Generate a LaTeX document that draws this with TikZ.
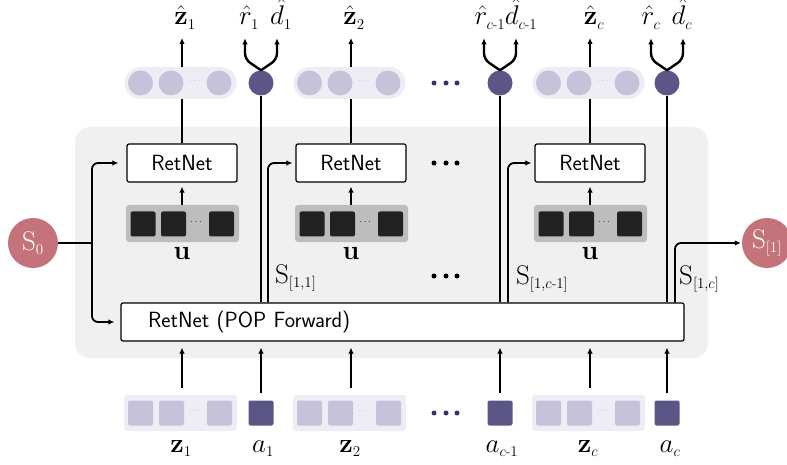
\RequirePackage{fix-cm}
\documentclass[tikz,border=0pt]{standalone}
\usepackage{amsmath}
\usetikzlibrary{arrows.meta,calc}
\DeclareMathSizes{27}{27}{15}{11}
\definecolor{bggray}{HTML}{F0F0F0}
\definecolor{pillbg}{HTML}{EEEDF5}
\definecolor{lightp}{HTML}{C5C2DA}
\definecolor{darkp}{HTML}{5C5686}
\definecolor{dotp}{HTML}{3B3566}
\definecolor{sred}{HTML}{C4737A}
\definecolor{ubg}{HTML}{BDBDBD}
\definecolor{usqc}{HTML}{222222}
\begin{document}
\begin{tikzpicture}[x=1pt,y=-1pt,
  arr/.style={-{Latex[length=6pt,width=5.5pt]}},
  thk/.style={line width=2.4pt},
  mid/.style={line width=1.8pt},
  retbox/.style={draw, line width=1.2pt, fill=white, rounded corners=2pt, minimum width=110pt, minimum height=38pt, inner sep=0pt, font=\fontsize{22}{26}\selectfont\sffamily},
  ublock/.style={fill=ubg, rounded corners=3pt, minimum width=113pt, minimum height=37pt, inner sep=0pt},
  usq/.style={fill=usqc, rounded corners=2pt, minimum size=25pt, inner sep=0pt},
  pill/.style={fill=pillbg, rounded corners=16pt, minimum width=112pt, minimum height=32pt, inner sep=0pt},
  lcirc/.style={circle, fill=lightp, minimum size=25pt, inner sep=0pt},
  dcirc/.style={circle, fill=darkp, minimum size=25pt, inner sep=0pt},
  bpill/.style={fill=pillbg, rounded corners=3pt, minimum width=113pt, minimum height=36pt, inner sep=0pt},
  lsq/.style={fill=lightp, rounded corners=2pt, minimum size=25pt, inner sep=0pt},
  dsq/.style={fill=darkp, rounded corners=2pt, minimum size=25pt, inner sep=0pt},
  bigdot/.style={circle, fill=dotp, minimum size=5pt, inner sep=0pt},
  blkdot/.style={circle, fill=black, minimum size=5pt, inner sep=0pt},
  mlab/.style={font=\fontsize{27}{30}\selectfont, inner sep=0pt, anchor=base},
  slab/.style={font=\fontsize{27}{30}\selectfont, inner sep=0pt, anchor=base west},
  scirc/.style={circle, fill=sred, minimum size=50pt, inner sep=0pt, text=white, font=\fontsize{27}{30}\selectfont},
  smalldots/.style={font=\fontsize{10}{12}\selectfont, inner sep=0pt},
]
\useasboundingbox (0,0) rectangle (787,465);

% background
\node[fill=bggray, rounded corners=15pt, minimum width=633pt, minimum height=231pt, inner sep=0pt] (bg) at (391.5,242.5) {};

% state circles
\node[scirc] (S0) at (33,243) {$\mathrm{S}_0$};
\node[scirc] (Sout) at (767,243) {$\mathrm{S}_{[1]}$};

% POP box
\node[draw, line width=1.2pt, fill=white, rounded corners=2pt, minimum height=38pt, text width=509pt, inner xsep=27pt, inner ysep=0pt, align=left, font=\fontsize{22}{26}\selectfont\sffamily] (POP) at (402.5,322) {RetNet (POP Forward)};

% groups
\foreach \i/\gx in {1/182, 2/351, 3/590} {
  \node[retbox] (R\i) at (\gx,163) {RetNet};
  \node[ublock] (U\i) at (\gx+0.5,223.5) {};
  \node[usq] (U\i a) at (\gx-39,224) {};
  \node[usq] (U\i b) at (\gx-8.5,224) {};
  \node[usq] (U\i c) at (\gx+39.5,224) {};
  \node[smalldots, text=usqc] (U\i d) at (\gx+15,222) {$\cdots$};
  \node[mlab] (u\i) at (\gx,259) {$\mathbf{u}$};
  % top pill
  \node[pill] (P\i) at (\gx-1.5,83) {};
  \node[lcirc] (P\i a) at (\gx-41.5,83) {};
  \node[lcirc] (P\i b) at (\gx-11,83) {};
  \node[lcirc] (P\i c) at (\gx+37,83) {};
  \node[smalldots, text=lightp] (P\i d) at (\gx+13.5,81) {$\cdots$};
  % bottom pill
  \node[bpill] (B\i) at (\gx-1.5,413) {};
  \node[lsq] (B\i a) at (\gx-41.5,413) {};
  \node[lsq] (B\i b) at (\gx-10.5,413) {};
  \node[lsq] (B\i c) at (\gx+37.5,413) {};
  \node[smalldots, text=lightp] (B\i d) at (\gx+13.5,411) {$\cdots$};
  \coordinate (zt\i) at (\gx,38);
  % connectors
  \draw[thk] (R\i.north) -- (R\i.north |- P\i.south);
  \draw[thk, arr] (R\i.north |- P\i.north) -- (zt\i);
  \draw[mid, arr, shorten >=4pt] (R\i.south |- U\i.north) -- (R\i.south);
  \draw[mid, arr, shorten <=7pt, shorten >=6pt] (R\i |- B\i.north) -- (R\i |- POP.south);
}

\foreach \j/\cx in {1/261, 2/500, 3/667} {
  \node[dcirc] (C\j) at (\cx,83) {};
  \node[dsq] (D\j) at (\cx,413) {};
  \draw[thk] (C\j |- POP.north) -- (C\j.south);
  \draw[thk, arr, rounded corners=6pt] (C\j.north) -- ++(-16,-11) -- ++(0,-21);
  \draw[thk, arr, rounded corners=6pt] (C\j.north) -- ++(16,-11) -- ++(0,-21);
  \draw[mid, arr, shorten <=7pt, shorten >=6pt] (D\j.north) -- (D\j |- POP.south);
}

% ellipsis dots
\foreach \k/\dx in {1/434, 2/446, 3/457} {
  \node[bigdot] (td\k) at (\dx,83) {};
  \node[bigdot] (bd\k) at (\dx,413) {};
  \node[blkdot] (md\k) at (\dx,163) {};
  \node[blkdot] (ld\k) at (\dx,276) {};
}

% S_0 brace
\coordinate (br) at (92,243);
\draw[thk] (S0.east) -- (br);
\draw[mid, arr, rounded corners=6pt, shorten >=8pt] (br) |- (R1.west);
\draw[mid, arr, rounded corners=6pt, shorten >=6pt] (br) |- (POP.west);

% S lines
\draw[mid, arr, rounded corners=6pt, shorten >=3pt] ($(C1 |- POP.north)+(7,0)$) |- (R2.west);
\draw[mid, arr, rounded corners=6pt, shorten >=3pt] ($(C2 |- POP.north)+(8,0)$) |- (R3.west);
\draw[mid, arr, rounded corners=6pt, shorten >=1pt] ($(C3 |- POP.north)+(8,0)$) |- (Sout.west);

% S labels
\node[slab] (ls1) at (275,283) {$\mathrm{S}_{[1,1]}$};
\node[slab] (ls2) at (516,284) {$\mathrm{S}_{[1,c\text{-}1]}$};
\node[slab] (ls3) at (679,284) {$\mathrm{S}_{[1,c]}$};

% top labels
\node[mlab] (lz1) at (185,25) {$\hat{\mathbf{z}}_1$};
\node[mlab] (lr1) at (249,25) {$\hat{r}_1$};
\node[mlab] (ld1) at (281,25) {$\hat{d}_1$};
\node[mlab] (lz2) at (354,25) {$\hat{\mathbf{z}}_2$};
\node[mlab] (lr2) at (490,25) {$\hat{r}_{c\text{-}1}$};
\node[mlab] (ld2) at (521,25) {$\hat{d}_{c\text{-}1}$};
\node[mlab] (lz3) at (594,25) {$\hat{\mathbf{z}}_c$};
\node[mlab] (lr3) at (651,25) {$\hat{r}_c$};
\node[mlab] (ld3) at (682,25) {$\hat{d}_c$};

% bottom labels
\node[mlab] (bz1) at (181,452) {$\mathbf{z}_1$};
\node[mlab] (ba1) at (263,452) {$a_1$};
\node[mlab] (bz2) at (350,452) {$\mathbf{z}_2$};
\node[mlab] (ba2) at (502,452) {$a_{c\text{-}1}$};
\node[mlab] (bz3) at (588,452) {$\mathbf{z}_c$};
\node[mlab] (ba3) at (670,452) {$a_c$};
\end{tikzpicture}
\end{document}
